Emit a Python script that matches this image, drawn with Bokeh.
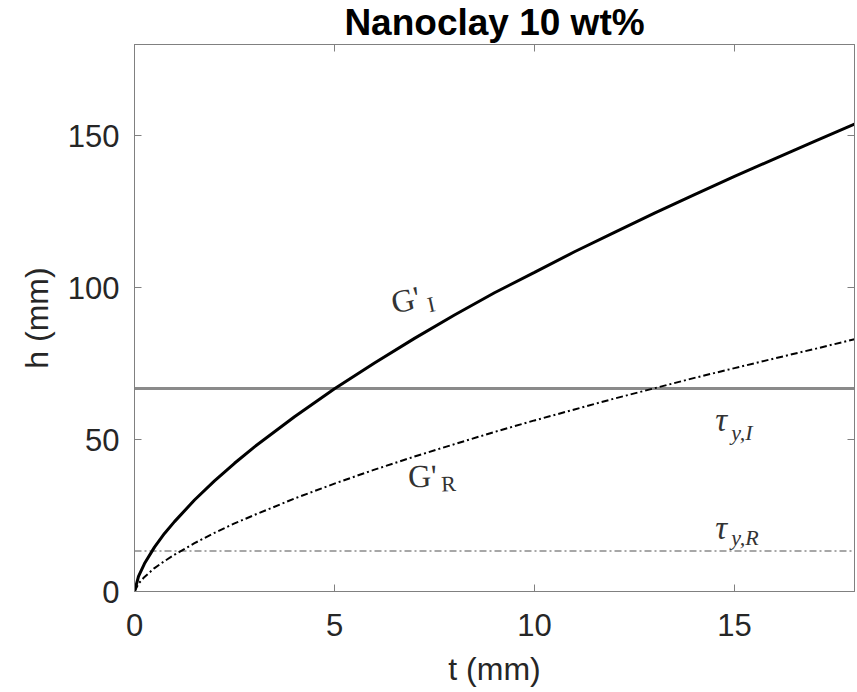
from bokeh.plotting import figure
from bokeh.models import Range1d, FixedTicker, LinearAxis, Label
from bokeh.embed import file_html
from bokeh.resources import INLINE

# ---- data ----
t_vals = [0, 0.1, 0.25, 0.5, 0.75, 1, 1.5, 2, 2.5, 3, 4, 5, 6, 7, 8, 9, 10,
          11, 12, 13, 14, 15, 16, 17, 18]
g_i_vals = [0, 5.0, 9.2, 14.6, 19.1, 23.0, 30.1, 36.4, 42.2, 47.6, 57.5, 66.7,
            75.2, 83.3, 91.0, 98.3, 105.0, 111.8, 118.2, 124.5, 130.6, 136.6,
            142.4, 148.1, 153.8]
g_r_vals = [0, 2.6, 4.8, 7.7, 10.0, 12.1, 15.9, 19.3, 22.4, 25.2, 30.6, 35.5,
            40.1, 44.4, 48.5, 52.5, 56.3, 59.9, 63.5, 66.9, 70.3, 73.5, 76.7,
            79.8, 83.0]
tau_y_i = 66.8
tau_y_r = 13.3
x_ticks = [0, 5, 10, 15]
y_ticks = [0, 50, 100, 150]
x_limits = [0, 18]
y_limits = [0, 180]

AXIS_GRAY = "#808080"
TEXT_COLOR = "#262626"

p = figure(width=857, height=692, output_backend="svg", toolbar_location=None,
           x_range=Range1d(*x_limits), y_range=Range1d(*y_limits),
           min_border_left=134, min_border_right=3, min_border_top=44,
           min_border_bottom=101)
p.background_fill_color = "white"
p.border_fill_color = "white"
p.outline_line_color = AXIS_GRAY
p.outline_line_width = 1
p.grid.visible = False

p.title.text = "Nanoclay 10 wt%"
p.title.align = "center"
p.title.vertical_align = "top"
p.title.text_font = "Liberation Sans"
p.title.text_font_size = "37px"
p.title.text_font_style = "bold"
p.title.text_color = "black"
p.title.standoff = 0
p.title.offset = 0

def style_axis(ax, ticks, show_labels=True):
    ax.ticker = FixedTicker(ticks=ticks)
    ax.major_tick_in = 7
    ax.major_tick_out = 0
    ax.minor_tick_in = 0
    ax.minor_tick_out = 0
    ax.axis_line_color = AXIS_GRAY
    ax.major_tick_line_color = AXIS_GRAY
    ax.major_label_text_font = "Liberation Sans"
    ax.major_label_text_color = TEXT_COLOR
    ax.major_label_text_font_size = "31px"
    ax.axis_label_text_font = "Liberation Sans"
    ax.axis_label_text_font_style = "normal"
    ax.axis_label_text_color = TEXT_COLOR
    ax.axis_label_text_font_size = "32px"
    if not show_labels:
        ax.major_label_overrides = {tk: "" for tk in ticks}
        ax.major_label_standoff = 0

xa = p.xaxis[0]
style_axis(xa, x_ticks)
xa.axis_label = "t (mm)"
xa.major_label_standoff = 22
xa.axis_label_standoff = 12
xa.axis_label_text_line_height = 0.8

ya = p.yaxis[0]
style_axis(ya, y_ticks)
ya.axis_label = "h (mm)"
ya.major_label_standoff = 15
ya.axis_label_standoff = 10

right_ax = LinearAxis()
style_axis(right_ax, y_ticks, show_labels=False)
p.add_layout(right_ax, "right")
top_ax = LinearAxis()
style_axis(top_ax, x_ticks, show_labels=False)
p.add_layout(top_ax, "above")

# horizontal threshold lines
p.line(x=x_limits, y=[tau_y_i, tau_y_i], line_color="#8a8a8a", line_width=3)
p.line(x=x_limits, y=[tau_y_r, tau_y_r], line_color="#8a8a8a", line_width=1.5,
       line_dash="7 3 2 3")

# curves
p.line(x=t_vals, y=g_i_vals, line_color="black", line_width=3)
p.line(x=t_vals, y=g_r_vals, line_color="black", line_width=2,
       line_dash="7 3 2 3")

SERIF = "Liberation Serif"
def lab(x, y, text, size, angle=0.0, italic=False, align="center",
        baseline="middle"):
    p.add_layout(Label(x=x, y=y, text=text, text_font=SERIF,
                       text_font_size=size, text_color="#333333",
                       text_font_style="italic" if italic else "normal",
                       angle=angle, text_align=align, text_baseline=baseline))

# G'_I
lab(6.78, 96.0, "G'", "32px", angle=0.22)
lab(7.42, 94.5, "I", "22px", angle=0.22)
# G'_R
lab(7.2, 38.0, "G'", "32px", angle=0.04)
lab(7.85, 35.5, "R", "22px", angle=0.04)
# tau_y,I
lab(14.52, 56.3, "τ", "33px", italic=True, align="left", baseline="alphabetic")
lab(14.92, 52.3, "y,I", "22px", italic=True, align="left", baseline="alphabetic")
# tau_y,R
lab(14.52, 21.0, "τ", "33px", italic=True, align="left", baseline="alphabetic")
lab(14.92, 17.8, "y,R", "22px", italic=True, align="left", baseline="alphabetic")

open("out.html", "w").write(file_html(p, INLINE))
